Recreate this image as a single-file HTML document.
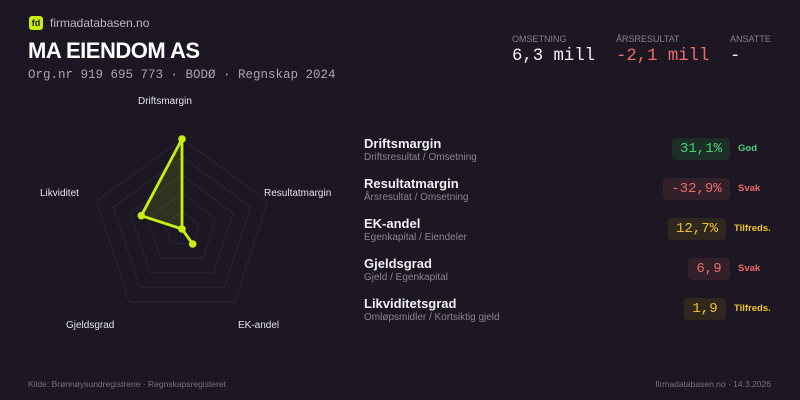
<!DOCTYPE html>
<html><head><meta charset="utf-8"><style>
*{margin:0;padding:0;box-sizing:border-box}
body{width:800px;height:400px;background:#1c1722;font-family:"Liberation Sans",sans-serif;color:#fff;position:relative;overflow:hidden}
.a{position:absolute;white-space:nowrap}
.mono{font-family:"Liberation Mono",monospace}
.t{font-size:13px;font-weight:bold;color:#f2f0f5}
.s{font-size:10px;color:#8a8592}
.b{position:absolute;height:22px;border-radius:4px;font-family:"Liberation Mono",monospace;font-size:14px;line-height:22px;text-align:center}
.st{position:absolute;font-size:9.5px;font-weight:bold}
.lbl{font-size:10px;color:#e6e3ea}
</style></head><body>
<div class="a" style="left:29px;top:16px;width:14px;height:14px;background:#c6f012;border-radius:3px;color:#1c1722;font-size:9px;font-weight:bold;line-height:14px;text-align:center">fd</div>
<div class="a" style="left:50px;top:16px;font-size:12px;color:#bdb8c4">firmadatabasen.no</div>
<div class="a" style="left:28px;top:38px;font-size:22px;font-weight:bold;letter-spacing:-0.5px">MA EIENDOM AS</div>
<div class="a mono" style="left:28px;top:68px;font-size:12.5px;color:#a9a4b0">Org.nr 919 695 773 · BODØ · Regnskap 2024</div>

<div class="a" style="left:512px;top:34px;font-size:9px;color:#85808c">OMSETNING</div>
<div class="a mono" style="left:512px;top:47px;font-size:17.3px;color:#f4f2f6">6,3 mill</div>
<div class="a" style="left:616px;top:34px;font-size:9px;color:#85808c">ÅRSRESULTAT</div>
<div class="a mono" style="left:616px;top:47px;font-size:17.3px;color:#ee6b6b">-2,1 mill</div>
<div class="a" style="left:730px;top:34px;font-size:9px;color:#85808c">ANSATTE</div>
<div class="a mono" style="left:730px;top:47px;font-size:17.3px;color:#f4f2f6">-</div>

<svg class="a" style="left:0;top:0" width="360" height="360">
<g fill="none" stroke="#2a2530" stroke-width="1">
<polygon points="182,139 267.6,201.2 234.9,301.8 129.1,301.8 96.4,201.2"/>
<polygon points="182,157 250.5,207.2 224.3,287.2 139.7,287.2 113.5,207.2"/>
<polygon points="182,175 233.4,213.3 213.7,272.7 150.3,272.7 130.6,213.3"/>
<polygon points="182,193 216.2,219.4 203.2,258.1 160.8,258.1 147.8,219.4"/>
<polygon points="182,211 199.1,225.4 192.6,243.6 171.4,243.6 164.9,225.4"/>
</g>
<polygon points="182,139 182,229 192.7,244 182,229 141.3,215.7" fill="rgba(198,240,18,0.12)" stroke="#c6f012" stroke-width="2.8" stroke-linejoin="round"/>
<g fill="#c6f012"><circle cx="182" cy="139" r="3.8"/><circle cx="182" cy="229" r="3.8"/><circle cx="192.7" cy="244" r="3.8"/><circle cx="141.3" cy="215.7" r="3.8"/></g>
</svg>
<div class="a lbl" style="left:138px;top:96px">Driftsmargin</div>
<div class="a lbl" style="left:40px;top:188px">Likviditet</div>
<div class="a lbl" style="left:264px;top:188px">Resultatmargin</div>
<div class="a lbl" style="left:66px;top:320px">Gjeldsgrad</div>
<div class="a lbl" style="left:238px;top:320px">EK-andel</div>

<div class="a t" style="left:364px;top:136px">Driftsmargin</div>
<div class="a s" style="left:364px;top:152px">Driftsresultat / Omsetning</div>
<div class="b" style="left:672px;top:138px;width:58px;background:#1d2e27;color:#4ad07a">31,1%</div>
<div class="st" style="left:738px;top:143px;color:#4ad07a">God</div>

<div class="a t" style="left:364px;top:176px">Resultatmargin</div>
<div class="a s" style="left:364px;top:192px">Årsresultat / Omsetning</div>
<div class="b" style="left:663px;top:178px;width:67px;background:#32202a;color:#ec6a6a">-32,9%</div>
<div class="st" style="left:738px;top:183px;color:#ec6a6a">Svak</div>

<div class="a t" style="left:364px;top:216px">EK-andel</div>
<div class="a s" style="left:364px;top:232px">Egenkapital / Eiendeler</div>
<div class="b" style="left:668px;top:218px;width:58px;background:#30271f;color:#f2c22c">12,7%</div>
<div class="st" style="left:734px;top:223px;color:#f2c22c">Tilfreds.</div>

<div class="a t" style="left:364px;top:256px">Gjeldsgrad</div>
<div class="a s" style="left:364px;top:272px">Gjeld / Egenkapital</div>
<div class="b" style="left:688px;top:258px;width:42px;background:#32202a;color:#ec6a6a">6,9</div>
<div class="st" style="left:738px;top:263px;color:#ec6a6a">Svak</div>

<div class="a t" style="left:364px;top:296px">Likviditetsgrad</div>
<div class="a s" style="left:364px;top:312px">Omløpsmidler / Kortsiktig gjeld</div>
<div class="b" style="left:684px;top:298px;width:42px;background:#30271f;color:#f2c22c">1,9</div>
<div class="st" style="left:734px;top:303px;color:#f2c22c">Tilfreds.</div>

<div class="a" style="left:28px;top:379px;font-size:8.5px;color:#77727e">Kilde: Brønnøysundregistrene · Regnskapsregisteret</div>
<div class="a" style="right:29px;top:379px;font-size:8.5px;color:#77727e">firmadatabasen.no · 14.3.2026</div>
</body></html>
